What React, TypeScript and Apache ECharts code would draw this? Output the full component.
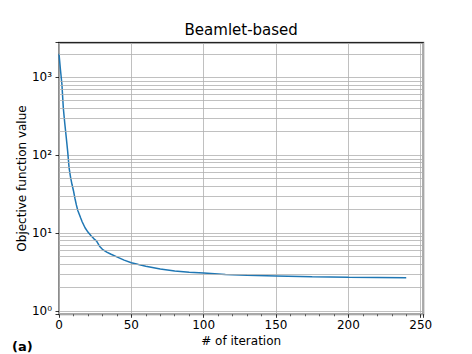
import React, { useEffect, useRef } from "react";
import * as echarts from "echarts";

const titleText = "Beamlet-based";
const panelLabel = "(a)";
const xAxisName = "# of iteration";
const yAxisName = "Objective function value";

const iterations = [0, 1, 2, 3, 4, 5, 6, 7, 8, 9, 10, 11, 12, 13, 14, 15, 16, 18, 20, 22, 24, 26, 28, 30, 33, 36, 40, 45, 50, 55, 60, 70, 80, 90, 100, 115, 130, 150, 175, 200, 220, 240];
const objectiveValues = [2000, 1250, 820, 400, 255, 170, 112, 68, 52, 42, 35, 28, 23, 19.5, 17.5, 15.6, 14, 11.7, 10.3, 9.3, 8.5, 7.9, 6.8, 6.2, 5.7, 5.35, 4.95, 4.5, 4.17, 3.95, 3.75, 3.45, 3.27, 3.15, 3.07, 2.95, 2.87, 2.82, 2.76, 2.72, 2.7, 2.68];

const xTicks = [0, 50, 100, 150, 200, 250];
const yMajorTicks = [1, 10, 100, 1000];
const yMinorTicks = [2, 3, 4, 5, 6, 7, 8, 9, 20, 30, 40, 50, 60, 70, 80, 90, 200, 300, 400, 500, 600, 700, 800, 900, 2000];

const X_MIN = 0;
const X_MAX = 251.8;
const Y_MIN = 0.907;
const Y_MAX = 2780;

const SUP: Record<string, string> = { "-": "⁻", "0": "⁰", "1": "¹", "2": "²", "3": "³", "4": "⁴", "5": "⁵", "6": "⁶", "7": "⁷", "8": "⁸", "9": "⁹" };

export default function App() {
  const ref = useRef<HTMLDivElement>(null);
  useEffect(() => {
    document.body.style.margin = "0";
    if (!ref.current) return;
    const chart = echarts.init(ref.current, undefined, { renderer: "svg" });
    const font = "DejaVu Sans";
    const data = iterations.map((x, i) => [x, objectiveValues[i]]);
    const gridColor = "#b0b0b0";
    chart.setOption({
      animation: false,
      backgroundColor: "#ffffff",
      grid: {
        left: 59,
        right: 48.7,
        top: 42.7,
        bottom: 39.7,
        show: true,
        borderColor: "#8c8c8c",
        borderWidth: 2,
        backgroundColor: "transparent",
      },
      graphic: [
        {
          type: "text",
          x: 241.2,
          y: 30,
          style: { text: titleText, fontFamily: font, fontSize: 15, fill: "#000", textAlign: "center", textVerticalAlign: "middle" },
        },
        {
          type: "text",
          x: 12,
          y: 346,
          style: { text: panelLabel, fontFamily: font, fontSize: 13, fontWeight: "bold", fill: "#000", textAlign: "left", textVerticalAlign: "middle" },
        },
      ],
      xAxis: [
        {
          type: "value",
          min: X_MIN,
          max: X_MAX,
          interval: 50,
          name: xAxisName,
          nameLocation: "middle",
          nameGap: 21,
          nameMoveOverlap: false,
          nameTextStyle: { fontFamily: font, fontSize: 12, color: "#000" },
          axisLine: { show: false },
          axisTick: { show: true, length: 3.5, lineStyle: { color: "#000", width: 0.8 } },
          minorTick: { show: true, splitNumber: 5, length: 2, lineStyle: { color: "#000", width: 0.6 } },
          axisLabel: {
            fontFamily: font,
            fontSize: 12,
            color: "#000",
            margin: 5,
            showMaxLabel: false,
            formatter: (v: number) => (xTicks.includes(v) ? String(v) : ""),
          },
          splitLine: { show: true, lineStyle: { color: gridColor, width: 0.8 } },
        },
        {
          type: "value",
          position: "top",
          min: X_MIN,
          max: X_MAX,
          axisLine: { show: true, onZero: false, lineStyle: { color: "#222", width: 1.2 } },
          axisTick: { show: false },
          axisLabel: { show: false },
          splitLine: { show: false },
        },
      ],
      yAxis: {
        type: "log",
        logBase: 10,
        min: Y_MIN,
        max: Y_MAX,
        name: yAxisName,
        nameLocation: "middle",
        nameGap: 31,
        nameMoveOverlap: false,
        nameTextStyle: { fontFamily: font, fontSize: 12, color: "#000" },
        axisLine: { show: false },
        axisTick: { show: true, length: 3.5, lineStyle: { color: "#000", width: 0.8 } },
        axisLabel: {
          fontFamily: font,
          fontSize: 12,
          color: "#000",
          margin: 7,
          formatter: (v: number) => {
            const e = Math.log10(v);
            const r = Math.round(e);
            if (Math.abs(e - r) > 1e-6) return "";
            if (!yMajorTicks.some((t) => Math.abs(t - v) / t < 1e-6)) return "";
            return "10" + String(r).split("").map((c) => SUP[c]).join("");
          },
        },
        splitLine: { show: true, lineStyle: { color: gridColor, width: 0.8 } },
      },
      series: [
        {
          type: "line",
          data,
          showSymbol: false,
          symbol: "none",
          clip: false,
          lineStyle: { color: "#1f77b4", width: 1.5 },
          markLine: {
            silent: true,
            symbol: "none",
            label: { show: false },
            animation: false,
            data: [
              ...yMinorTicks.map((v) => ({ yAxis: v, lineStyle: { color: gridColor, width: 0.8, type: "solid" } })),
              ...yMinorTicks.map((v) => [
                { coord: [-1.4, v], lineStyle: { color: "#000", width: 0.6, type: "solid" } },
                { coord: [X_MIN, v] },
              ]),
            ],
          },
        },
      ],
    });
    return () => chart.dispose();
  }, []);
  return <div ref={ref} style={{ width: 472, height: 354 }} />;
}
